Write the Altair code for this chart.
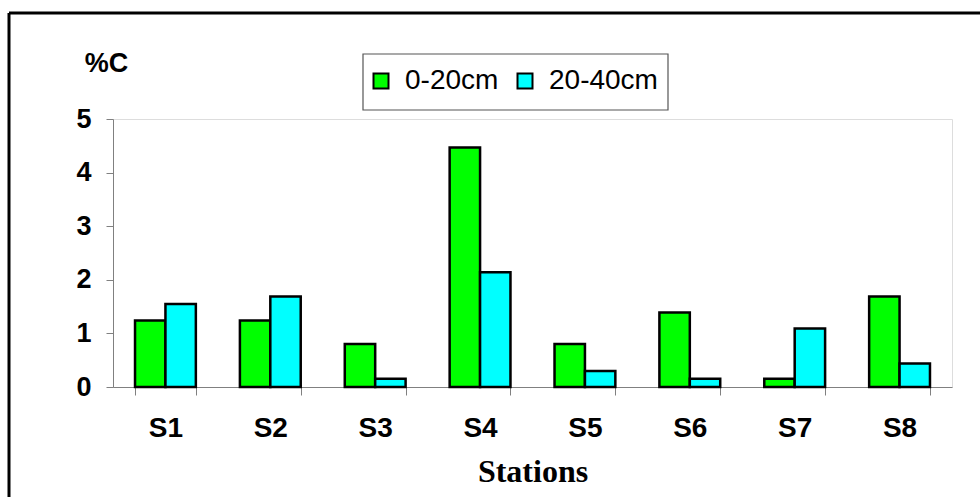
import altair as alt
import pandas as pd

stations = ["S1", "S2", "S3", "S4", "S5", "S6", "S7", "S8"]
depths = ["0-20cm", "20-40cm"]
carbon_0_20 = [1.24, 1.24, 0.80, 4.47, 0.80, 1.39, 0.155, 1.69]
carbon_20_40 = [1.55, 1.69, 0.155, 2.14, 0.30, 0.155, 1.09, 0.44]
y_ticks = [0, 1, 2, 3, 4, 5]
colors = ["#00ff00", "#00ffff"]

rows = []
for i, s in enumerate(stations):
    rows.append({"station": s, "depth": depths[0], "value": carbon_0_20[i]})
    rows.append({"station": s, "depth": depths[1], "value": carbon_20_40[i]})
df = pd.DataFrame(rows)

SANS = "Arial, Liberation Sans, sans-serif"
SERIF = "Times New Roman, Liberation Serif, serif"
W, H = 839, 268

bars = alt.Chart(df).mark_bar(stroke="black", strokeWidth=2.5).encode(
    x=alt.X(
        "station:N",
        sort=stations,
        scale=alt.Scale(paddingInner=0.42, paddingOuter=0.21),
        axis=alt.Axis(
            title="Stations",
            titleFont=SERIF,
            titleFontSize=32,
            titleFontWeight="bold",
            titleColor="black",
            titleX=W / 2,
            titleY=94,
            titleAlign="center",
            titleBaseline="alphabetic",
            labelFont=SANS,
            labelFontSize=28,
            labelFontWeight="bold",
            labelColor="black",
            labelAngle=0,
            labelPadding=19,
            tickSize=8,
            tickColor="#808080",
            domainColor="#808080",
            tickBand="extent",
            grid=False,
        ),
    ),
    xOffset=alt.XOffset("depth:N", sort=depths, scale=alt.Scale(paddingInner=0, paddingOuter=0)),
    y=alt.Y(
        "value:Q",
        scale=alt.Scale(domain=[0, 5], nice=False),
        axis=alt.Axis(
            values=y_ticks,
            title="%C",
            titleAngle=0,
            titleX=-7,
            titleY=-56,
            titleAlign="center",
            titleBaseline="middle",
            titleFont=SANS,
            titleFontSize=27,
            titleFontWeight="bold",
            titleColor="black",
            labelFont=SANS,
            labelFontSize=27,
            labelFontWeight="bold",
            labelColor="black",
            labelPadding=15,
            tickSize=7,
            tickColor="#808080",
            domainColor="#808080",
            grid=False,
        ),
    ),
    color=alt.Color(
        "depth:N",
        sort=depths,
        scale=alt.Scale(domain=depths, range=colors),
        legend=alt.Legend(
            title=None,
            orient="none",
            direction="horizontal",
            legendX=254,
            legendY=-52,
            padding=0,
            symbolType="square",
            symbolSize=225,
            symbolStrokeColor="black",
            symbolStrokeWidth=2,
            symbolOpacity=1,
            labelFont=SANS,
            labelFontSize=28,
            labelColor="black",
            labelOffset=10,
            columnPadding=12,
        ),
    ),
)

dummy = alt.Data(values=[{"a": 1}])

legend_box = alt.Chart(dummy).mark_rect(fill="white", stroke="#555555", strokeWidth=1.2).encode(
    x=alt.value(250), x2=alt.value(555), y=alt.value(-65), y2=alt.value(-9)
)

border_top = alt.Chart(dummy).mark_rule(color="black", strokeWidth=3).encode(
    x=alt.value(-104), x2=alt.value(W + 30), y=alt.value(-106)
)
border_left = alt.Chart(dummy).mark_rule(color="black", strokeWidth=3).encode(
    x=alt.value(-104), y=alt.value(-106), y2=alt.value(H + 115)
)

chart = alt.layer(border_top, border_left, legend_box, bars).properties(
    width=W,
    height=H,
    autosize=alt.AutoSizeParams(type="none"),
    padding={"left": 113, "top": 119, "right": 28, "bottom": 110},
).configure_view(stroke="transparent").configure(background="white")

chart.save("out.html", embed_options={"renderer": "svg", "actions": False})
